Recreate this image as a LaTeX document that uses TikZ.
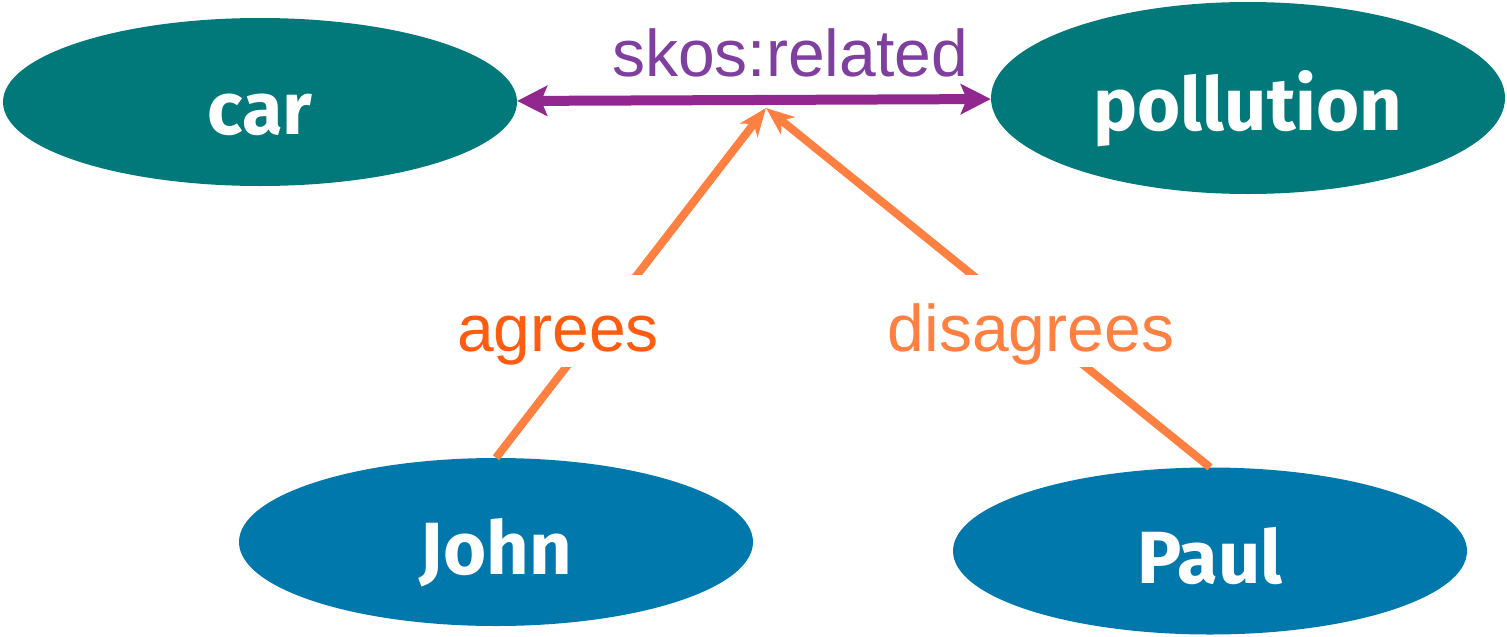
\documentclass[tikz,border=0pt]{standalone}
\usepackage{fontspec}
\setmainfont{Liberation Sans}
\newfontfamily\nodefont{Fira Sans}
\usetikzlibrary{shapes.geometric,arrows.meta}
\definecolor{teal1}{HTML}{01797A}
\definecolor{blue1}{HTML}{0078AC}
\definecolor{purparrow}{HTML}{92278F}
\definecolor{purptext}{HTML}{7F3F9E}
\definecolor{orline}{HTML}{FF8040}
\definecolor{ortext}{HTML}{FF5C10}
\newcommand{\lowered}[1]{\raisebox{-32pt}[0pt][0pt]{#1}}
\tikzset{
  concept/.style={ellipse, fill=teal1, draw=none, inner sep=0pt, minimum width=514pt, minimum height=168pt,
    text=white, font=\nodefont\bfseries\fontsize{74}{78}\selectfont},
  person/.style={concept, fill=blue1},
  relarrow/.style={purparrow, line width=10pt, {Stealth[length=30pt,width=30pt,inset=6pt]}-{Stealth[length=30pt,width=30pt,inset=6pt]}},
  opinion/.style={orline, line width=8pt, -{Stealth[length=28pt,width=22pt,inset=8pt]}},
  lbl/.style={font=\fontsize{66}{70}\selectfont, inner sep=0pt, anchor=base},
  gaplbl/.style={lbl, fill=white, text height=76pt, text depth=16pt, inner xsep=6pt}
}
\begin{document}
\begin{tikzpicture}[x=1pt,y=-1pt]
\useasboundingbox (0,0) rectangle (1507,637);
\node[concept] (car) at (260,102) {\lowered{car}};
\node[concept, minimum height=192pt] (pollution) at (1248,98) {\lowered{pollution}};
\node[person] (John) at (496,542) {\lowered{John}};
\node[person, minimum height=167pt] (Paul) at (1210,551) {\lowered{Paul}};
\coordinate (apex) at (766,108);
\draw[relarrow] (car) -- (pollution);
\draw[opinion] (John.north) -- (apex);
\draw[opinion] (Paul.north) -- (apex);
\node[lbl, text=purptext] (rel) at (790,76) {skos:related};
\node[gaplbl, text=ortext] (agr) at (558,351) {agrees};
\node[gaplbl, text=orline] (dis) at (1031,351) {disagrees};
\end{tikzpicture}
\end{document}
